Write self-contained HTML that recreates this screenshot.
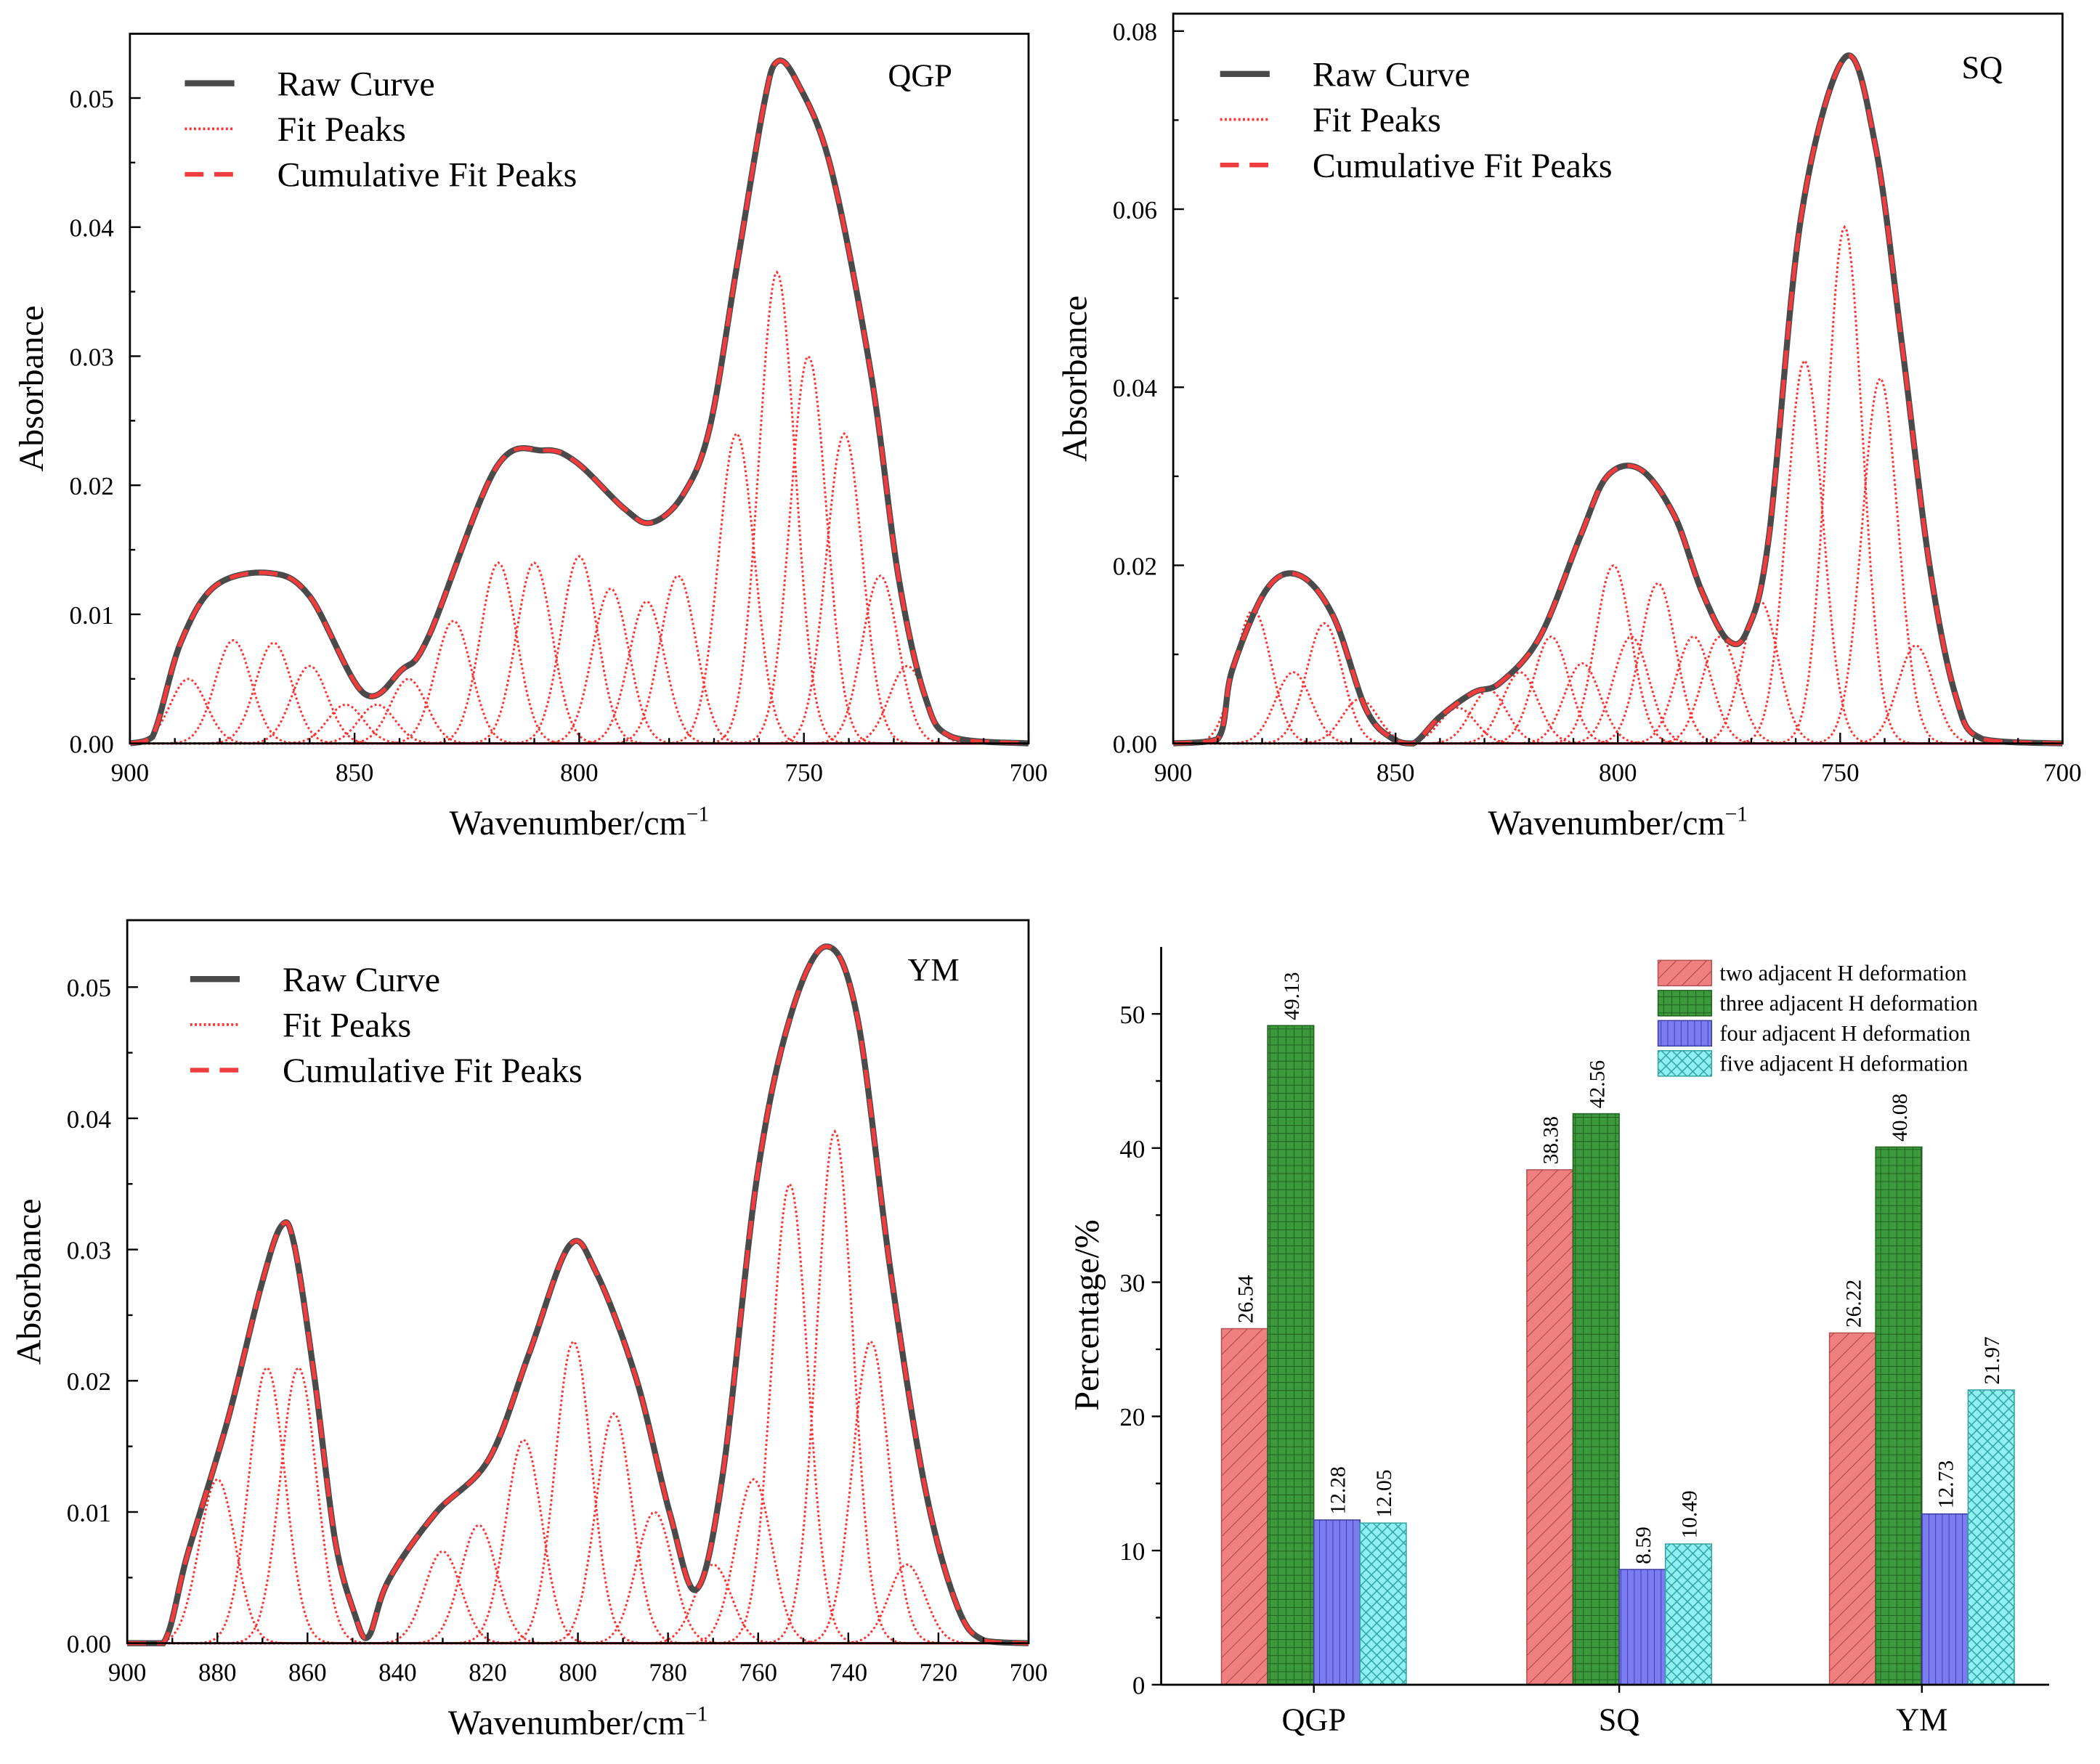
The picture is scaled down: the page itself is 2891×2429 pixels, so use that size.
<!DOCTYPE html>
<html><head><meta charset="utf-8"><style>
html,body{margin:0;padding:0;background:#fff}
svg{display:block}
text{font-family:"Liberation Serif",serif;fill:#000}
</style></head><body>
<svg id="s" width="2891" height="2429" viewBox="0 0 1568 1317" xmlns="http://www.w3.org/2000/svg">
<defs>
<pattern id="pRed" width="8" height="8" patternUnits="userSpaceOnUse" patternTransform="rotate(45)"><rect width="8" height="8" fill="#f08080"/><line x1="0" y1="0" x2="0" y2="8" stroke="#a04040" stroke-width="1"/></pattern>
<pattern id="pGreen" width="6" height="6" patternUnits="userSpaceOnUse"><rect width="6" height="6" fill="#3c9a3c"/><path d="M0 0H6M0 0V6" stroke="#1f5f1f" stroke-width="1"/></pattern>
<pattern id="pBlue" width="5" height="5" patternUnits="userSpaceOnUse"><rect width="5" height="5" fill="#7c7cf2"/><line x1="0" y1="0" x2="0" y2="5" stroke="#3a3aa0" stroke-width="1"/></pattern>
<pattern id="pCyan" width="8" height="8" patternUnits="userSpaceOnUse"><rect width="8" height="8" fill="#8ef0f0"/><path d="M0 0L8 8M8 0L0 8" stroke="#30a0a0" stroke-width="0.8"/></pattern>
</defs>
</svg>
<script>
// ---- data ----
const qgpRawWn=[900,895,888.7,881,869,860,848,839.5,833.5,818.6,808,800.7,790,784,777,771,765,759,756,751.6,744,735,729,723,717,700];
const qgpRawAbs=[0,0.0005,0.0078,0.0122,0.0132,0.0114,0.0039,0.0057,0.0083,0.0213,0.0227,0.0218,0.0182,0.0171,0.0192,0.0244,0.0368,0.0493,0.0528,0.0513,0.0446,0.0285,0.013,0.0036,0.0005,0];
const qgpPeakC=[887,877,868,860,852,845,838,828,818,810,800,793,785,778,765,756,749,741,733,727];
const qgpPeakH=[0.005,0.008,0.0078,0.006,0.003,0.003,0.005,0.0095,0.014,0.014,0.0145,0.012,0.011,0.013,0.024,0.0365,0.030,0.024,0.013,0.006];
const sqRawWn=[900,890,886.7,879,871.7,864,856.6,850.6,846,840,832.5,826.5,817.5,808.4,802.4,795,787.3,781.3,775.3,770.8,766,758.7,748.8,742,736,730,724,718,700];
const sqRawAbs=[0,0.0005,0.0083,0.0173,0.0189,0.0143,0.0038,0.0005,0,0.003,0.0057,0.0068,0.012,0.0233,0.030,0.0308,0.0256,0.0173,0.0116,0.0128,0.0233,0.0594,0.0771,0.0669,0.0444,0.0203,0.0053,0.0005,0];
const sqPeakC=[882,873,866,858,836,829,822,815,808,801,797,791,783,777,768,758,749,741,733];
const sqPeakH=[0.015,0.008,0.0135,0.005,0.004,0.006,0.008,0.012,0.009,0.020,0.012,0.018,0.012,0.012,0.016,0.043,0.058,0.041,0.011];
const ymRawWn=[900,892,886.6,877.7,870.3,865.8,862.9,858.4,853.9,849.5,846.5,842,831.6,819.8,810.8,801.9,796,787,779.6,773.7,767.8,760.3,752.9,744.9,738,730.6,723,715.8,709.8,700];
const ymRawAbs=[0,0,0.0068,0.017,0.0272,0.0318,0.0303,0.0201,0.0079,0.0022,0.0005,0.0048,0.0099,0.014,0.0221,0.0303,0.0283,0.0201,0.0099,0.0041,0.013,0.0354,0.0477,0.0531,0.0477,0.0283,0.0119,0.0028,0.0002,0];
const ymPeakC=[880,869,862,830,822,812,801,792,783,770,761,753,743,735,727];
const ymPeakH=[0.0125,0.021,0.021,0.007,0.009,0.0155,0.023,0.0175,0.010,0.006,0.0125,0.035,0.039,0.023,0.006];
const barGroups=["QGP","SQ","YM"];
const barSeries=["two adjacent H deformation","three adjacent H deformation","four adjacent H deformation","five adjacent H deformation"];
const barTwo=[26.54,38.38,26.22];
const barThree=[49.13,42.56,40.08];
const barFour=[12.28,8.59,12.73];
const barFive=[12.05,10.49,21.97];
const barYTicks=[0,10,20,30,40,50];

const svg=document.getElementById('s');
const NS='http://www.w3.org/2000/svg';
function mk(tag,at,parent){const e=document.createElementNS(NS,tag);for(const k in at)e.setAttribute(k,at[k]);(parent||svg).appendChild(e);return e;}
function txt(x,y,s,size,anchor,parent,rot){const t=mk('text',{x:x,y:y,'font-size':size,'text-anchor':anchor||'middle'},parent);if(rot)t.setAttribute('transform','rotate('+rot+' '+x+' '+y+')');t.textContent=s;return t;}
function smooth(pts,ymaxPix){let d='M'+pts[0][0]+' '+pts[0][1];for(let i=0;i<pts.length-1;i++){const p0=pts[Math.max(0,i-1)],p1=pts[i],p2=pts[i+1],p3=pts[Math.min(pts.length-1,i+2)];const c1x=p1[0]+(p2[0]-p0[0])/6,c1y=Math.min(ymaxPix,p1[1]+(p2[1]-p0[1])/6),c2x=p2[0]-(p3[0]-p1[0])/6,c2y=Math.min(ymaxPix,p2[1]-(p3[1]-p1[1])/6);d+=' C'+c1x+' '+c1y+' '+c2x+' '+c2y+' '+p2[0]+' '+p2[1];}return d;}

function spectrum(cfg){
  const g=mk('g',{});
  
  
  const X=w=>cfg.x0+(900-w)/200*(cfg.x1-cfg.x0);
  const Y=a=>cfg.y0-a/cfg.ymax*(cfg.y0-cfg.ytop);
  const pg=mk('g',{},g);
  
  
  cfg.pc.forEach((c,i)=>{const pts=[];for(let w=900;w>=700;w-=0.5){pts.push(X(w).toFixed(1)+','+Y(cfg.ph[i]*Math.exp(-Math.pow(w-c,2)/(2*4*4))).toFixed(1));}
    const p=mk('polyline',{points:pts.join(' '),fill:'none',stroke:'#ff3030','stroke-width':1.6,'stroke-dasharray':'1.6,1.8'},pg);
    
    });
  const pts=cfg.wn.map((w,i)=>[X(w),Y(cfg.ab[i])]);
  const d=smooth(pts,cfg.y0);
  const r=mk('path',{d:d,fill:'none',stroke:'#4a4a4a','stroke-width':4.5},g);
  
  
  const c=mk('path',{d:d,fill:'none',stroke:'#f03c3c','stroke-width':3,'stroke-dasharray':'14,8'},g);
  
  
  const b=mk('rect',{x:cfg.x0,y:cfg.ytop0,width:cfg.x1-cfg.x0,height:cfg.y0-cfg.ytop0,fill:'none',stroke:'#000','stroke-width':1.5},g);
  
  
  for(let w=900;w>=700;w-=cfg.xminor){const major=Math.abs((900-w)%cfg.xstep)<0.01;const x=X(w);mk('line',{x1:x,x2:x,y1:cfg.y0,y2:cfg.y0-(major?8:4),stroke:'#000','stroke-width':1.3},g);
    if(major){const t=txt(x,cfg.y0+28,String(w),19,'middle',g);}}
  for(let k=0;k<=cfg.nY*2;k++){const a=k*cfg.ystep/2;const y=Y(a);if(y<cfg.ytop0)break;const major=k%2==0;mk('line',{x1:cfg.x0,x2:cfg.x0+(major?8:4),y1:y,y2:y,stroke:'#000','stroke-width':1.3},g);
    if(major){const t=txt(cfg.x0-12,y+7,a.toFixed(2),19,'end',g);}}
  const xt=mk('text',{x:(cfg.x0+cfg.x1)/2,y:cfg.y0+68,'font-size':26,'text-anchor':'middle'},g);
  xt.innerHTML='Wavenumber/cm<tspan dy="-10" font-size="16">−1</tspan>';
  
  
  const yt=txt(cfg.x0-65,(cfg.ytop0+cfg.y0)/2,'Absorbance',26,'middle',g,-90);
  
  
  const lab=txt(cfg.labX,cfg.labY,cfg.name,24,'middle',g);
  
  
  const lx=cfg.legX,ly=cfg.legY;
  const lg=mk('g',{},g);
  
  
  mk('line',{x1:lx,x2:lx+37,y1:ly,y2:ly,stroke:'#4a4a4a','stroke-width':4.5},lg);
  mk('line',{x1:lx,x2:lx+37,y1:ly+34,y2:ly+34,stroke:'#ff3030','stroke-width':2,'stroke-dasharray':'1.6,1.8'},lg);
  mk('line',{x1:lx,x2:lx+37,y1:ly+68,y2:ly+68,stroke:'#f03c3c','stroke-width':3.5,'stroke-dasharray':'14,8'},lg);
  ['Raw Curve','Fit Peaks','Cumulative Fit Peaks'].forEach((s,i)=>{const t=txt(lx+69,ly+9+34*i,s,26,'start',lg);});
}
spectrum({name:'QGP',x0:97,x1:768,y0:555,ytop:73,ymax:0.05,ytop0:25,xstep:50,xminor:10,ystep:0.01,nY:5,wn:qgpRawWn,ab:qgpRawAbs,pc:qgpPeakC,ph:qgpPeakH,labX:687,labY:64,legX:138,legY:62});
spectrum({name:'SQ',x0:876,x1:1540,y0:555,ytop:23,ymax:0.08,ytop0:10,xstep:50,xminor:10,ystep:0.02,nY:4,wn:sqRawWn,ab:sqRawAbs,pc:sqPeakC,ph:sqPeakH,labX:1480,labY:58,legX:911,legY:55});
spectrum({name:'YM',x0:95,x1:768,y0:1227,ytop:737,ymax:0.05,ytop0:687,xstep:20,xminor:10,ystep:0.01,nY:5,wn:ymRawWn,ab:ymRawAbs,pc:ymPeakC,ph:ymPeakH,labX:697,labY:732,legX:142,legY:731});

// ---- bar chart ----
(function(){
  const g=mk('g',{});
  
  
  const x0=867,x1=1530,y0=1258,yTop=707;
  const Y=v=>y0-v/50*(y0-757);
  const centers=[981,1209,1435],bw=34.5;
  const series=[barTwo,barThree,barFour,barFive],fills=['url(#pRed)','url(#pGreen)','url(#pBlue)','url(#pCyan)'],strokes=['#b05050','#1f5f1f','#3a3aa0','#30a0a0'];
  series.forEach((arr,s)=>arr.forEach((v,i)=>{const x=centers[i]-2*bw+s*bw;
    const r=mk('rect',{x:x,y:Y(v),width:bw,height:y0-Y(v),fill:fills[s],stroke:strokes[s],'stroke-width':0.8},g);
    
    
    const t=txt(x+bw/2+6,Y(v)-4,v.toFixed(2),16,'start',g,-90);
    
    }));
  mk('line',{x1:x0,x2:x0,y1:yTop,y2:y0,stroke:'#000','stroke-width':1.5},g);
  mk('line',{x1:x0,x2:x1,y1:y0,y2:y0,stroke:'#000','stroke-width':1.5},g);
  barYTicks.forEach(v=>{const y=Y(v);mk('line',{x1:x0-7,x2:x0,y1:y,y2:y,stroke:'#000','stroke-width':1.3},g);
    if(v<50)mk('line',{x1:x0-4,x2:x0,y1:Y(v+5),y2:Y(v+5),stroke:'#000','stroke-width':1.3},g);
    const t=txt(x0-12,y+7,String(v),19,'end',g);});
  barGroups.forEach((n,i)=>{mk('line',{x1:centers[i],x2:centers[i],y1:y0,y2:y0+6,stroke:'#000','stroke-width':1.3},g);
    const t=txt(centers[i],y0+34,n,24,'middle',g);});
  const yt=txt(820,982,'Percentage/%',26,'middle',g,-90);
  
  
  barSeries.forEach((s,i)=>{const y=717+22.5*i;
    const r=mk('rect',{x:1238,y:y,width:40,height:19,fill:fills[i],stroke:strokes[i],'stroke-width':0.8},g);
    
    
    const t=txt(1284,y+15,s,16.5,'start',g);
    
    });
})();
</script>
</body></html>
